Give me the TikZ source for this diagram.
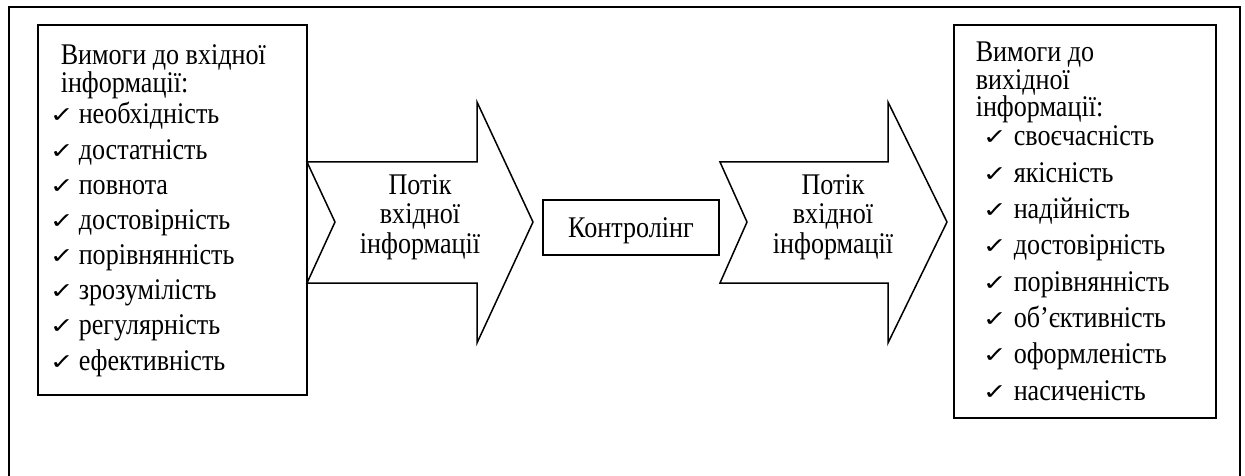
\documentclass[tikz,border=0pt]{standalone}
\usepackage{fontspec}
\setmainfont{Liberation Serif}[FakeStretch=0.87]
\newfontfamily\symfont{DejaVu Sans}
\begin{document}
\begin{tikzpicture}[x=1pt,y=-1pt,line width=1.5pt,
  box/.style={draw,inner sep=0pt,line width=1.6pt},
  txt/.style={inner sep=0pt,anchor=base west,font=\fontsize{30}{34}\selectfont},
  chk/.style={inner sep=0pt,anchor=base west,font=\symfont\fontsize{22}{24}\selectfont},
  flow/.style={draw,line width=1.5pt,line join=miter},
  flowtxt/.style={inner sep=0pt,align=center,font=\fontsize{30}{29.5}\selectfont}]
\useasboundingbox (0,0) rectangle (1245,476);
% outer frame (open at the bottom)
\coordinate (fbl) at (9,480);
\coordinate (ftl) at (9,7);
\coordinate (ftr) at (1240,7);
\coordinate (fbr) at (1240,480);
\draw[line width=1.8pt] (fbl) -- (ftl) -- (ftr) -- (fbr);
% boxes
\node[box,minimum width=269pt,minimum height=370pt] (inbox) at (172.5,210) {};
\node[box,minimum width=262pt,minimum height=393pt] (outbox) at (1085,221.5) {};
\node[box,minimum width=176pt,minimum height=55pt] (ctrl) at (631,227.5) {};
\node[txt,anchor=base] (ctrltxt) at (631,237) {Контролінг};
% block arrows
\draw[flow] (307,162) -- (477,162) -- (477,102) -- (533,222) -- (477,343) -- (477,283) -- (307,283) -- (335,222) -- cycle;
\draw[flow] (720,162) -- (888,162) -- (888,102) -- (947,222) -- (888,343) -- (888,283) -- (720,283) -- (747,222) -- cycle;
\node[flowtxt] (a1txt) at (420,217) {Потік\\вхідної\\інформації};
\node[flowtxt] (a2txt) at (833,217) {Потік\\вхідної\\інформації};
% left box text
\node[txt] (ih1) at (60,65) {Вимоги до вхідної};
\node[txt] (ih2) at (60,93) {інформації:};
\foreach \t [count=\i from 0] in {необхідність,достатність,повнота,достовірність,порівнянність,зрозумілість,регулярність,ефективність}{
  \node[chk] (ic\i) at (49,123+35.15*\i) {\scalebox{1.3}[1]{✓}};
  \node[txt] (it\i) at (78,124+35.15*\i) {\t};
}
% right box text
\node[txt] (oh1) at (975,62) {Вимоги до};
\node[txt] (oh2) at (975,89.5) {вихідної};
\node[txt] (oh3) at (975,117) {інформації:};
\foreach \t [count=\i from 0] in {своєчасність,якісність,надійність,достовірність,порівнянність,об’єктивність,оформленість,насиченість}{
  \node[chk] (oc\i) at (982,145+36.3*\i) {\scalebox{1.3}[1]{✓}};
  \node[txt] (ot\i) at (1013,146+36.3*\i) {\t};
}
\end{tikzpicture}
\end{document}
